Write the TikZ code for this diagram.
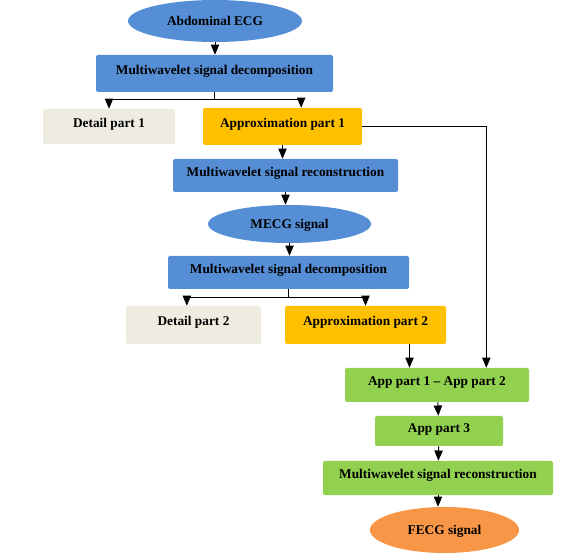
\documentclass[tikz,border=0pt]{standalone}
\usepackage{fontspec}
\setmainfont{Liberation Serif}
\usepackage{xcolor}
\usepackage{tikz}
\usetikzlibrary{shapes.geometric}
\usetikzlibrary{arrows}
\definecolor{sigblue}{RGB}{85,142,213}
\definecolor{detgray}{RGB}{238,236,225}
\definecolor{appyellow}{RGB}{255,192,0}
\definecolor{appgreen}{RGB}{146,208,80}
\definecolor{fecgorange}{RGB}{247,150,70}

\begin{document}
\begin{tikzpicture}[x=0.75pt,y=-0.75pt,
    every node/.style={font=\fontsize{10}{12}\selectfont\bfseries, inner sep=0pt},
    blk/.style={rectangle, rounded corners=1.5pt, fill=#1,
      text height=5.75pt, text depth=4.25pt},
    sig/.style={ellipse, fill=#1, text height=8.4pt, text depth=1.6pt},
    arr/.style={-triangle 45, line width=0.75pt}]
    \useasboundingbox (0,0) rectangle (565,556);
    \node[sig=sigblue, minimum width=130.5pt, minimum height=31.5pt] (abd) at (215,21) {Abdominal ECG};
    \node[blk=sigblue, minimum width=177.75pt, minimum height=27.75pt] (dec1) at (214.5,73.5) {Multiwavelet signal decomposition};
    \node[blk=detgray, minimum width=99pt, minimum height=26.25pt] (det1) at (109,126.5) {Detail part 1};
    \node[blk=appyellow, minimum width=119.25pt, minimum height=27.75pt] (app1) at (282.5,126.5) {Approximation part 1};
    \node[blk=sigblue, minimum width=168.75pt, minimum height=24.75pt] (rec1) at (285.5,175.5) {Multiwavelet signal reconstruction};
    \node[sig=sigblue, minimum width=122.25pt, minimum height=28.5pt] (mecg) at (289.5,224) {MECG signal};
    \node[blk=sigblue, minimum width=180.75pt, minimum height=24.75pt] (dec2) at (288.5,272.5) {Multiwavelet signal decomposition};
    \node[blk=detgray, minimum width=101.25pt, minimum height=28.5pt] (det2) at (193.5,325) {Detail part 2};
    \node[blk=appyellow, minimum width=120.75pt, minimum height=28.5pt] (app2) at (365.5,325) {Approximation part 2};
    \node[blk=appgreen, minimum width=138pt, minimum height=25.5pt] (diff) at (437,385) {App part 1 -- App part 2};
    \node[blk=appgreen, minimum width=96pt, minimum height=22.5pt] (app3) at (439,431) {App part 3};
    \node[blk=appgreen, minimum width=172.5pt, minimum height=25.5pt] (rec2) at (438,478) {Multiwavelet signal reconstruction};
    \node[sig=fecgorange, minimum width=111.75pt, minimum height=34.5pt] (fecg) at (444.5,530) {FECG signal};

    \draw[arr] (abd.south) -- (abd.south |- dec1.north);
    \draw[line width=0.75pt] (dec1.south) -- ++(0,7) coordinate (s1);
    \draw[arr] (s1) -| (det1.north);
    \draw[arr] (s1) -| ([xshift=14pt]app1.north);
    \draw[arr] (app1.south) -- (app1.south |- rec1.north);
    \draw[arr] (app1.east) -| ([xshift=37pt]diff.north);
    \draw[arr] (rec1.south) -- (rec1.south |- mecg.north);
    \draw[arr] (mecg.south) -- (mecg.south |- dec2.north);
    \draw[line width=0.75pt] (dec2.south) -- ++(0,8) coordinate (s2);
    \draw[arr] (s2) -| ([xshift=-5pt]det2.north);
    \draw[arr] (s2) -| (app2.north);
    \draw[arr] (app2.south) ++(33pt,0) coordinate (a2) -- (a2 |- diff.north);
    \draw[arr] (diff) -- (app3);
    \draw[arr] (app3) -- (rec2);
    \draw[arr] (rec2.south) -- (rec2.south |- fecg.north);
\end{tikzpicture}
\end{document}
